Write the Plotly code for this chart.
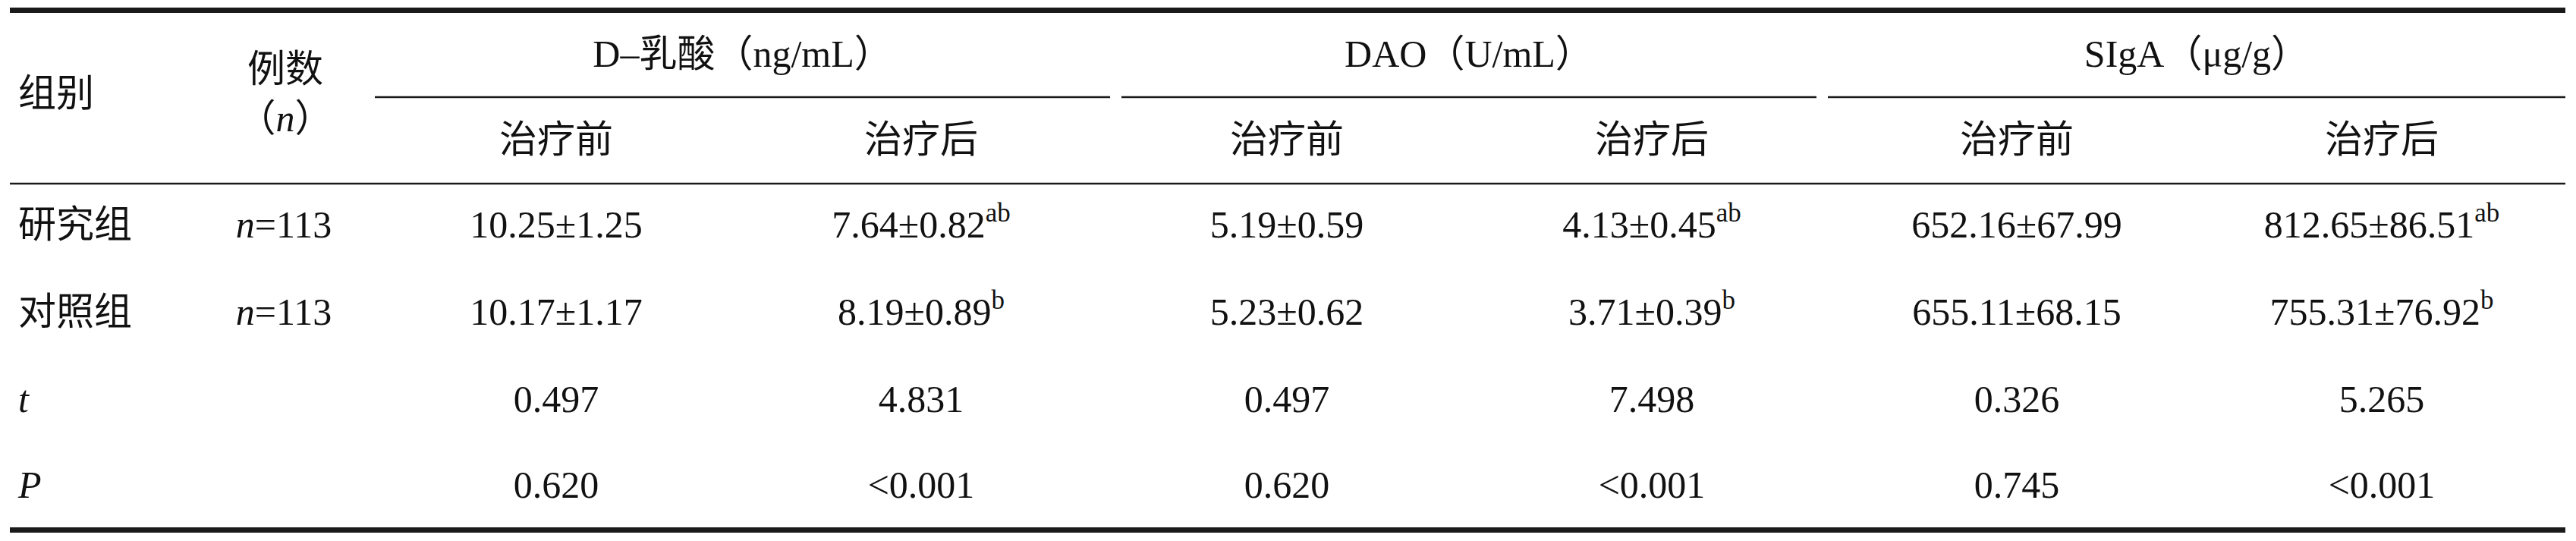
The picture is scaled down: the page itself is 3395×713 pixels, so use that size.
import plotly.graph_objects as go

W, H = 3395, 713
OFF = 8  # default page margin of the html body

# ---- table content ----
groups = ["研究组", "对照组"]
n_cases = [113, 113]
stat_labels = ["t", "P"]
measures = ["D–乳酸（ng/mL）", "DAO（U/mL）", "SIgA（μg/g）"]
phases = ["治疗前", "治疗后"]

study_mean = [10.25, 7.64, 5.19, 4.13, 652.16, 812.65]
study_sd = [1.25, 0.82, 0.59, 0.45, 67.99, 86.51]
study_mark = ["", "ab", "", "ab", "", "ab"]

control_mean = [10.17, 8.19, 5.23, 3.71, 655.11, 755.31]
control_sd = [1.17, 0.89, 0.62, 0.39, 68.15, 76.92]
control_mark = ["", "b", "", "b", "", "b"]

t_values = ["0.497", "4.831", "0.497", "7.498", "0.326", "5.265"]
p_values = ["0.620", "<0.001", "0.620", "<0.001", "0.745", "<0.001"]

# ---- layout (pixel positions on the page) ----
col_x = [733, 1214, 1696, 2177, 2658, 3139]
row_y = [300, 415, 530, 643]
label_x = 24
n_x = 374
span_x = [(494, 1463), (1478, 2394), (2409, 3381)]
left, right = 13, 3381

FONT = "Liberation Serif, Noto Sans CJK SC, serif"
FS = 50
INK = "#111111"


def fmt(m, s, mark):
    txt = "{:.2f}±{:.2f}".format(m, s)
    if mark:
        txt += "<sup>" + mark + "</sup>"
    return txt


def esc(s):
    return s.replace("<", "&lt;")


def add_text(fig, xs, ys, texts, pos="middle center", size=FS):
    fig.add_trace(go.Scatter(x=xs, y=ys, mode="text", text=texts,
                             textposition=pos,
                             textfont=dict(family=FONT, size=size, color=INK),
                             hoverinfo="skip"))


rows = [
    [fmt(m, s, k) for m, s, k in zip(study_mean, study_sd, study_mark)],
    [fmt(m, s, k) for m, s, k in zip(control_mean, control_sd, control_mark)],
    t_values,
    [esc(p) for p in p_values],
]

fig = go.Figure()

for i, vals in enumerate(rows):
    add_text(fig, col_x, [row_y[i]] * len(vals), vals)

# first two columns
first_col = groups + ["<i>%s</i>" % s for s in stat_labels]
add_text(fig, [label_x] * 4, row_y, first_col, pos="middle right")
add_text(fig, [n_x] * len(n_cases), row_y[:len(n_cases)],
         ["<i>n</i>=%d" % n for n in n_cases])

# header
add_text(fig, [label_x], [127], ["组别"], pos="middle right")
add_text(fig, [n_x + 2, n_x + 2], [95, 160], ["例数", "（<i>n</i>）"])
add_text(fig, [(a + b) / 2 for a, b in span_x], [75] * 3, measures)
add_text(fig, col_x, [188] * 6, phases * 3)

# rules
shapes = []
def rule(x0, x1, y, w):
    shapes.append(dict(type="line", xref="x", yref="y", x0=x0, x1=x1, y0=y, y1=y,
                       line=dict(color="#1a1a1a", width=w)))

rule(left, right, 13.5, 7)
for a, b in span_x:
    rule(a, b, 128, 2.5)
rule(left, right, 242, 2.5)
rule(left, right, 698.5, 7)

fig.update_layout(
    width=W - OFF, height=H - OFF, autosize=False,
    margin=dict(l=0, r=0, t=0, b=0, pad=0),
    paper_bgcolor="white", plot_bgcolor="white",
    showlegend=False,
    xaxis=dict(range=[OFF, W], visible=False, fixedrange=True),
    yaxis=dict(range=[H, OFF], visible=False, fixedrange=True),
    shapes=shapes,
)

fig.write_html("out.html")
